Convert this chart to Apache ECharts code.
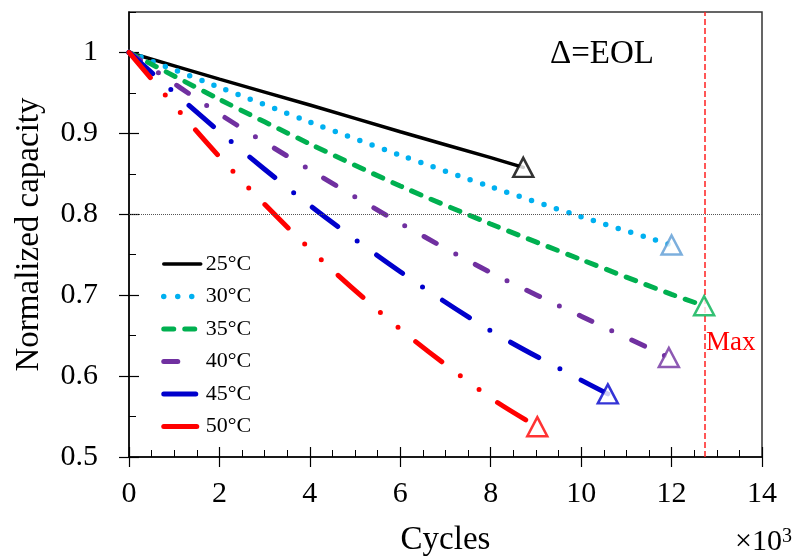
<!DOCTYPE html>
<html><head><meta charset="utf-8">
<script src="https://cdn.jsdelivr.net/npm/echarts@6/dist/echarts.min.js"></script>
<style>html,body{margin:0;padding:0;background:#fff}#c{width:794px;height:558px}</style>
</head><body><div id="c"></div>
<script>
const seriesNames = ['25°C', '30°C', '35°C', '40°C', '45°C', '50°C'];
const cycles25 = [0, 2, 4, 6, 8, 8.72];
const cap25    = [1, 0.967, 0.935, 0.902, 0.870, 0.858];
const cycles30 = [0, 2, 4, 6, 8, 10, 12];
const cap30    = [1, 0.957, 0.914, 0.873, 0.834, 0.797, 0.762];
const cycles35 = [0, 2, 4, 6, 8, 10, 12, 12.72];
const cap35    = [1, 0.942, 0.887, 0.835, 0.788, 0.744, 0.701, 0.687];
const cycles40 = [0, 2, 4, 6, 8, 10, 11.94];
const cap40    = [1, 0.924, 0.855, 0.789, 0.728, 0.674, 0.623];
const cycles45 = [0, 2, 4, 6, 8, 10, 10.59];
const cap45    = [1, 0.902, 0.811, 0.729, 0.656, 0.595, 0.578];
const cycles50 = [0, 2, 4, 6, 8, 9.03];
const cap50    = [1, 0.871, 0.757, 0.658, 0.573, 0.5375];
const maxCycles = 12.74;
const eolLine = 0.8;
const yTickValues = [0.5, 0.6, 0.7, 0.8, 0.9, 1];

const FONT = '"Liberation Serif","Times New Roman",serif';
const allX = [cycles25, cycles30, cycles35, cycles40, cycles45, cycles50];
const allY = [cap25, cap30, cap35, cap40, cap45, cap50];
const colors = ['#000000', '#00B0F0', '#00B050', '#7030A0', '#0000CC', '#FF0000'];
const triColors = ['#000000', '#5B9BD5', '#00B050', '#7030A0', '#0000CC', '#FF0000'];
const widths = [3.5, 5.5, 5, 5, 5, 5];
const dashes = ['solid', [0, 13], [10, 11], [14, 22, 0, 22], [32, 24, 0, 24], [33, 23, 0, 23, 0, 23]];
const legendDashes = ['solid', [0, 14], [10, 11], [14, 40], [32, 24, 0, 24], [33, 23, 0, 23, 0, 23]];

const series = seriesNames.map((name, k) => ({
  name, type: 'line', xAxisIndex: 0, yAxisIndex: 0,
  data: allX[k].map((x, i) => [x, allY[k][i]]),
  symbol: 'none', smooth: 0.3, z: 3,
  lineStyle: { color: colors[k], width: widths[k], type: dashes[k], cap: 'round' },
  itemStyle: { color: colors[k] }
}));
series.push({
  name: 'EOL', type: 'scatter', xAxisIndex: 0, yAxisIndex: 0, z: 6,
  symbol: 'triangle', symbolSize: [20, 19],
  data: allX.map((xs, k) => ({ value: [xs[xs.length - 1], allY[k][allY[k].length - 1]],
    itemStyle: { color: '#fff', borderColor: triColors[k], borderWidth: 2.5 } })),
  silent: true
});
series.push({
  name: 'refs', type: 'line', xAxisIndex: 0, yAxisIndex: 0, data: [], z: 2,
  markLine: {
    silent: true, symbol: 'none', label: { show: false }, animation: false,
    data: [
      { xAxis: maxCycles, lineStyle: { color: '#FF2020', width: 1.5, type: [6, 3], opacity: 1 } },
      { yAxis: eolLine, lineStyle: { color: '#555', width: 1, type: [1, 1], opacity: 1 } }
    ]
  }
});

const baseX = { type: 'value', min: 0, max: 14, gridIndex: 0, position: 'bottom' };
const baseY = { type: 'value', min: 0.5, max: 1.05, gridIndex: 0, position: 'left' };
const noLine = { show: false };
const chart = echarts.init(document.getElementById('c'), null, { renderer: 'canvas' });
chart.setOption({
  animation: false,
  backgroundColor: '#fff',
  grid: { left: 129, right: 32, top: 12, bottom: 101, show: true, borderColor: '#333', borderWidth: 1.5,
          containLabel: false, outerBoundsMode: 'none' },
  xAxis: [
    Object.assign({}, baseX, {
      interval: 2,
      axisLine: { show: true, lineStyle: { color: '#000', width: 1.5 } },
      axisTick: { show: true, inside: false, length: 10, lineStyle: { color: '#000', width: 1.2 } },
      axisLabel: { margin: 22, fontSize: 30, fontFamily: FONT, color: '#000' },
      splitLine: { show: false },
      name: 'Cycles', nameLocation: 'middle', nameGap: 67,
      nameTextStyle: { fontSize: 33, fontFamily: FONT, color: '#000' }
    }),
    Object.assign({}, baseX, {
      interval: 2, axisLine: noLine, axisLabel: { show: false }, splitLine: { show: false },
      axisTick: { show: true, inside: true, length: 10, lineStyle: { color: '#000', width: 1.2 } }
    }),
    Object.assign({}, baseX, {
      interval: 0.5, axisLine: noLine, axisLabel: { show: false }, splitLine: { show: false },
      axisTick: { show: true, inside: true, length: 7, lineStyle: { color: '#000', width: 1 } }
    })
  ],
  yAxis: [
    Object.assign({}, baseY, {
      interval: 0.1,
      axisLine: { show: true, lineStyle: { color: '#000', width: 1.5 } },
      axisTick: { show: true, inside: false, length: 10, customValues: yTickValues, lineStyle: { color: '#000', width: 1.2 } },
      axisLabel: { margin: 31, fontSize: 30, fontFamily: FONT, color: '#000', customValues: yTickValues },
      splitLine: { show: false },
      name: 'Normalized capacity', nameLocation: 'middle', nameGap: 83,
      nameTextStyle: { fontSize: 33, fontFamily: FONT, color: '#000' }
    }),
    Object.assign({}, baseY, {
      interval: 0.1, axisLine: noLine, axisLabel: { show: false }, splitLine: { show: false },
      axisTick: { show: true, inside: true, length: 10, customValues: yTickValues, lineStyle: { color: '#000', width: 1.2 } }
    }),
    Object.assign({}, baseY, {
      interval: 0.05, axisLine: noLine, axisLabel: { show: false }, splitLine: { show: false },
      axisTick: { show: true, inside: true, length: 7, lineStyle: { color: '#000', width: 1 } }
    })
  ],
  legend: {
    data: seriesNames.map((name, k) => ({
      name,
      itemStyle: { color: 'transparent', borderWidth: 0, opacity: 0 },
      lineStyle: { color: colors[k], width: widths[k], type: legendDashes[k], cap: 'round', opacity: 1 }
    })),
    orient: 'vertical', left: 161, top: 253, padding: 0,
    itemWidth: 37, itemHeight: 14, itemGap: 10.5,
    textStyle: { fontSize: 22, fontFamily: FONT, color: '#000', lineHeight: 22 },
    selectedMode: false
  },
  graphic: [
    { type: 'text', left: 550, top: 38, style: { text: 'Δ=EOL', font: '33px ' + FONT, fill: '#000' } },
    { type: 'text', left: 706, top: 329, style: { text: 'Max', font: '27px ' + FONT, fill: '#FF0000' } },
    { type: 'text', right: 2, top: 527, style: {
        text: '{a|×10}{b|3}',
        rich: {
          a: { fontSize: 30, fontFamily: FONT, fill: '#000', color: '#000', lineHeight: 30 },
          b: { fontSize: 20, fontFamily: FONT, fill: '#000', color: '#000', verticalAlign: 'top', lineHeight: 20 }
        } } }
  ],
  series
});
</script></body></html>
